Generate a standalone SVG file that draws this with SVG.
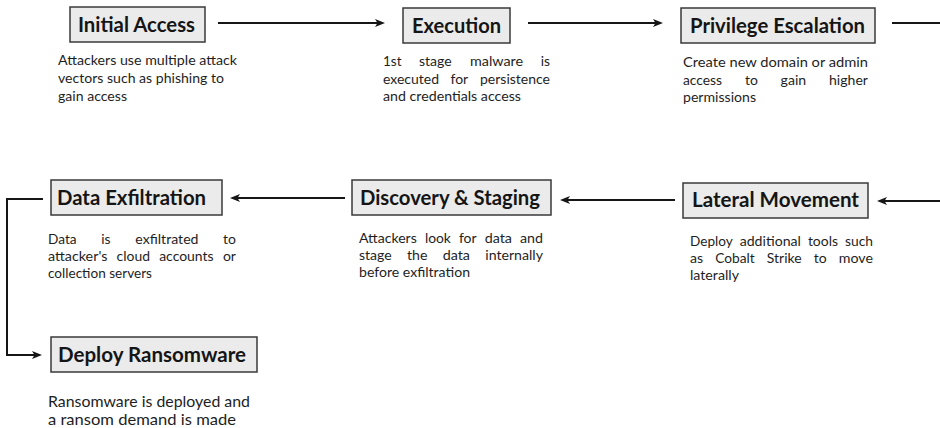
<svg xmlns="http://www.w3.org/2000/svg" width="940" height="428" viewBox="0 0 940 428">
<defs>
<marker id="ah" viewBox="0 0 10 8" refX="7" refY="4" markerWidth="10" markerHeight="8" markerUnits="userSpaceOnUse" orient="auto">
<path d="M0,0 L10,4 L0,8 L2.5,4 z" fill="#161616"/>
</marker>
</defs>
<style>
.box{fill:#ebebeb;stroke:#3a3a3a;stroke-width:1.5}
.t{font-family:Lato,"Open Sans","Liberation Sans",sans-serif;font-weight:bold;font-size:20.5px;fill:#151515}
.d{font-family:Lato,"Open Sans","Liberation Sans",sans-serif;font-size:14px;fill:#1e1e1e}
.d2{font-family:Lato,"Open Sans","Liberation Sans",sans-serif;font-size:16px;fill:#1e1e1e}
.e{text-anchor:end}
.c{fill:none;stroke:#161616;stroke-width:2}
</style>
<rect width="940" height="428" fill="#ffffff"/>

<g id="connectors">
<path class="c" d="M218,23 H382" marker-end="url(#ah)"/>
<path class="c" d="M528,23 H660" marker-end="url(#ah)"/>
<path class="c" d="M892,23 H940"/>
<path class="c" d="M940,201 H880" marker-end="url(#ah)"/>
<path class="c" d="M675,200 H563" marker-end="url(#ah)"/>
<path class="c" d="M345,198 H233" marker-end="url(#ah)"/>
<path class="c" d="M43,199 H7 V355 H39" marker-end="url(#ah)"/>
</g>

<g id="initial-access">
<rect class="box" x="70" y="7" width="135" height="35"/>
<text class="t" x="78" y="32" textLength="117" lengthAdjust="spacingAndGlyphs">Initial Access</text>
<text class="d" x="58" y="65" textLength="179" lengthAdjust="spacingAndGlyphs">Attackers use multiple attack</text>
<text class="d" x="58" y="83" textLength="166" lengthAdjust="spacingAndGlyphs">vectors such as phishing to</text>
<text class="d" x="58" y="101" textLength="69" lengthAdjust="spacingAndGlyphs">gain access</text>
</g>

<g id="execution">
<rect class="box" x="403" y="8" width="107" height="35"/>
<text class="t" x="412" y="33" textLength="89" lengthAdjust="spacingAndGlyphs">Execution</text>
<text class="d" x="383" y="66" textLength="18.5" lengthAdjust="spacingAndGlyphs">1st</text>
<text class="d" x="419" y="66" textLength="32.7" lengthAdjust="spacingAndGlyphs">stage</text>
<text class="d" x="470" y="66" textLength="53" lengthAdjust="spacingAndGlyphs">malware</text>
<text class="d" x="540.7" y="66" textLength="9.3" lengthAdjust="spacingAndGlyphs">is</text>
<text class="d" x="383" y="84" textLength="56" lengthAdjust="spacingAndGlyphs">executed</text>
<text class="d" x="450.5" y="84" textLength="17.7" lengthAdjust="spacingAndGlyphs">for</text>
<text class="d" x="480" y="84" textLength="70" lengthAdjust="spacingAndGlyphs">persistence</text>
<text class="d" x="383" y="101" textLength="138" lengthAdjust="spacingAndGlyphs">and credentials access</text>
</g>

<g id="privilege-escalation">
<rect class="box" x="681" y="8" width="194" height="35"/>
<text class="t" x="690" y="33" textLength="175" lengthAdjust="spacingAndGlyphs">Privilege Escalation</text>
<text class="d" x="683" y="67" textLength="185" lengthAdjust="spacingAndGlyphs">Create new domain or admin</text>
<text class="d" x="683" y="85" textLength="39" lengthAdjust="spacingAndGlyphs">access</text>
<text class="d" x="745" y="85" textLength="12.9" lengthAdjust="spacingAndGlyphs">to</text>
<text class="d" x="780.6" y="85" textLength="25.6" lengthAdjust="spacingAndGlyphs">gain</text>
<text class="d" x="829" y="85" textLength="39" lengthAdjust="spacingAndGlyphs">higher</text>
<text class="d" x="683" y="102" textLength="73" lengthAdjust="spacingAndGlyphs">permissions</text>
</g>

<g id="lateral-movement">
<rect class="box" x="683" y="183" width="185" height="35"/>
<text class="t" x="692" y="207" textLength="167" lengthAdjust="spacingAndGlyphs">Lateral Movement</text>
<text class="d" x="690" y="246" textLength="42.7" lengthAdjust="spacingAndGlyphs">Deploy</text>
<text class="d" x="739.7" y="246" textLength="61.2" lengthAdjust="spacingAndGlyphs">additional</text>
<text class="d" x="807.9" y="246" textLength="30.1" lengthAdjust="spacingAndGlyphs">tools</text>
<text class="d" x="845" y="246" textLength="28" lengthAdjust="spacingAndGlyphs">such</text>
<text class="d" x="690" y="263" textLength="13.1" lengthAdjust="spacingAndGlyphs">as</text>
<text class="d" x="715.3" y="263" textLength="39.4" lengthAdjust="spacingAndGlyphs">Cobalt</text>
<text class="d" x="766.8" y="263" textLength="34.8" lengthAdjust="spacingAndGlyphs">Strike</text>
<text class="d" x="813.8" y="263" textLength="12.9" lengthAdjust="spacingAndGlyphs">to</text>
<text class="d" x="838.8" y="263" textLength="34.2" lengthAdjust="spacingAndGlyphs">move</text>
<text class="d" x="690" y="280" textLength="49" lengthAdjust="spacingAndGlyphs">laterally</text>
</g>

<g id="discovery-staging">
<rect class="box" x="352" y="180" width="199" height="35"/>
<text class="t" x="360" y="205" textLength="180" lengthAdjust="spacingAndGlyphs">Discovery &amp; Staging</text>
<text class="d" x="359" y="243" textLength="57.8" lengthAdjust="spacingAndGlyphs">Attackers</text>
<text class="d" x="424.9" y="243" textLength="26" lengthAdjust="spacingAndGlyphs">look</text>
<text class="d" x="458.9" y="243" textLength="17.7" lengthAdjust="spacingAndGlyphs">for</text>
<text class="d" x="484.7" y="243" textLength="27.3" lengthAdjust="spacingAndGlyphs">data</text>
<text class="d" x="520" y="243" textLength="23" lengthAdjust="spacingAndGlyphs">and</text>
<text class="d" x="359" y="260" textLength="32.7" lengthAdjust="spacingAndGlyphs">stage</text>
<text class="d" x="407" y="260" textLength="20.4" lengthAdjust="spacingAndGlyphs">the</text>
<text class="d" x="442.7" y="260" textLength="27.3" lengthAdjust="spacingAndGlyphs">data</text>
<text class="d" x="485.3" y="260" textLength="57.7" lengthAdjust="spacingAndGlyphs">internally</text>
<text class="d" x="359" y="277" textLength="111" lengthAdjust="spacingAndGlyphs">before exfiltration</text>
</g>

<g id="data-exfiltration">
<rect class="box" x="51" y="180" width="171" height="35"/>
<text class="t" x="57" y="205" textLength="149" lengthAdjust="spacingAndGlyphs">Data Exfiltration</text>
<text class="d" x="48" y="244" textLength="28.6" lengthAdjust="spacingAndGlyphs">Data</text>
<text class="d" x="101.3" y="244" textLength="9.3" lengthAdjust="spacingAndGlyphs">is</text>
<text class="d" x="135.3" y="244" textLength="63.2" lengthAdjust="spacingAndGlyphs">exfiltrated</text>
<text class="d" x="223.1" y="244" textLength="12.9" lengthAdjust="spacingAndGlyphs">to</text>
<text class="d" x="48" y="261" textLength="59.4" lengthAdjust="spacingAndGlyphs">attacker's</text>
<text class="d" x="116.6" y="261" textLength="33.4" lengthAdjust="spacingAndGlyphs">cloud</text>
<text class="d" x="159.2" y="261" textLength="54.4" lengthAdjust="spacingAndGlyphs">accounts</text>
<text class="d" x="222.9" y="261" textLength="13.1" lengthAdjust="spacingAndGlyphs">or</text>
<text class="d" x="48" y="278" textLength="104" lengthAdjust="spacingAndGlyphs">collection servers</text>
</g>

<g id="deploy-ransomware">
<rect class="box" x="51" y="337" width="206" height="35"/>
<text class="t" x="58" y="362" textLength="188" lengthAdjust="spacingAndGlyphs">Deploy Ransomware</text>
<text class="d2" x="48" y="407" textLength="202" lengthAdjust="spacingAndGlyphs">Ransomware is deployed and</text>
<text class="d2" x="48" y="425" textLength="188" lengthAdjust="spacingAndGlyphs">a ransom demand is made</text>
</g>
</svg>
